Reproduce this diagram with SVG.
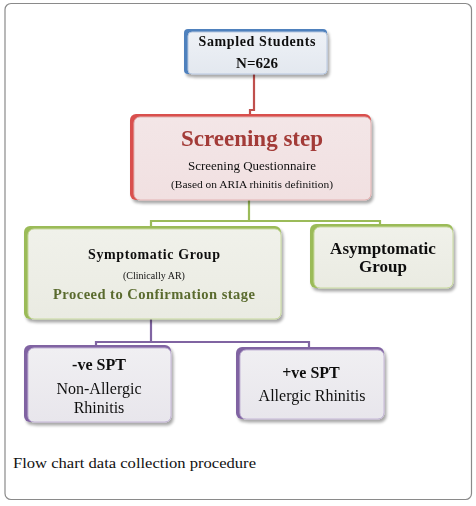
<svg xmlns="http://www.w3.org/2000/svg" width="476" height="506" viewBox="0 0 476 506">
<defs>
<style>
.t{font-family:"Liberation Serif","Times New Roman",serif;text-anchor:middle;fill:#111}
.b{font-weight:bold}
.conn{fill:none;stroke-width:2.2}
</style>
<filter id="sh" x="-10%" y="-10%" width="125%" height="130%">
<feGaussianBlur in="SourceAlpha" stdDeviation="1.5"/>
<feOffset dx="1.5" dy="2.5"/>
<feComponentTransfer><feFuncA type="linear" slope="0.35"/></feComponentTransfer>
<feMerge><feMergeNode/><feMergeNode in="SourceGraphic"/></feMerge>
</filter>
<linearGradient id="gb" x1="0" y1="0" x2="0" y2="1"><stop offset="0" stop-color="#eef1f6"/><stop offset="1" stop-color="#e3e8ef"/></linearGradient>
<linearGradient id="gr" x1="0" y1="0" x2="0" y2="1"><stop offset="0" stop-color="#f3e6e7"/><stop offset="1" stop-color="#f1e0e1"/></linearGradient>
<linearGradient id="gg" x1="0" y1="0" x2="0" y2="1"><stop offset="0" stop-color="#f0f1ea"/><stop offset="1" stop-color="#eaebe2"/></linearGradient>
<linearGradient id="gp" x1="0" y1="0" x2="0" y2="1"><stop offset="0" stop-color="#f0eff2"/><stop offset="1" stop-color="#e8e6ec"/></linearGradient>
</defs>
<rect x="5" y="3.5" width="466.5" height="496" rx="6" fill="#fff" stroke="#8a8a8a" stroke-width="1.2"/>

<g id="connectors">
<path class="conn" stroke="#c0504d" d="M254,74 V110 H250 V115"/>
<path class="conn" stroke="#9bbb59" d="M249,200 V221 H151 V227 M249,221 H380 V225"/>
<path class="conn" stroke="#8064a2" d="M151,319 V342 H96 V346 M151,342 H309 V348"/>
</g>

<g id="n_sampled" filter="url(#sh)">
<rect x="184" y="29" width="143" height="45" rx="4" fill="#4f81bd"/>
<rect x="188" y="32" width="139" height="42" rx="4" fill="url(#gb)" stroke="#b8c8e0" stroke-width="1"/>
<text class="t b" x="257" y="46" font-size="14" textLength="117" lengthAdjust="spacing">Sampled  Students</text>
<text class="t b" x="257" y="68" font-size="15">N=626</text>
</g>

<g id="n_screening" filter="url(#sh)">
<rect x="130" y="114" width="241" height="86" rx="6" fill="#d9504d"/>
<rect x="134" y="117" width="237" height="83" rx="6" fill="url(#gr)" stroke="#e2b3b3" stroke-width="1"/>
<text class="t b" x="252" y="146" font-size="23" style="fill:#a33b37">Screening step</text>
<text class="t" x="252" y="170" font-size="13">Screening Questionnaire</text>
<text class="t" x="252" y="188" font-size="10" textLength="162" lengthAdjust="spacingAndGlyphs">(Based on ARIA rhinitis  definition)</text>
</g>

<g id="n_symptomatic" filter="url(#sh)">
<rect x="24" y="226" width="257" height="93" rx="6" fill="#9bbb59"/>
<rect x="28" y="229" width="253" height="90" rx="6" fill="url(#gg)" stroke="#c8d99f" stroke-width="1"/>
<text class="t b" x="154" y="259" font-size="14" textLength="132" lengthAdjust="spacing">Symptomatic  Group</text>
<text class="t" x="154" y="279" font-size="10">(Clinically  AR)</text>
<text class="t b" x="154" y="299" font-size="14.5" style="fill:#5a6b2e" textLength="202" lengthAdjust="spacing">Proceed to Confirmation  stage</text>
</g>

<g id="n_asymptomatic" filter="url(#sh)">
<rect x="310" y="224" width="143" height="64" rx="6" fill="#9bbb59"/>
<rect x="314" y="227" width="139" height="61" rx="6" fill="url(#gg)" stroke="#c8d99f" stroke-width="1"/>
<text class="t b" x="383" y="254" font-size="17">Asymptomatic</text>
<text class="t b" x="383" y="272" font-size="17">Group</text>
</g>

<g id="n_neg" filter="url(#sh)">
<rect x="24" y="345" width="147" height="77" rx="6" fill="#8064a2"/>
<rect x="28" y="348" width="143" height="74" rx="6" fill="url(#gp)" stroke="#c4b6d6" stroke-width="1"/>
<text class="t b" x="99" y="370" font-size="16">-ve SPT</text>
<text class="t" x="99" y="394" font-size="16">Non-Allergic</text>
<text class="t" x="99" y="413" font-size="16">Rhinitis</text>
</g>

<g id="n_pos" filter="url(#sh)">
<rect x="236" y="347" width="148" height="72" rx="6" fill="#8064a2"/>
<rect x="240" y="350" width="144" height="69" rx="6" fill="url(#gp)" stroke="#c4b6d6" stroke-width="1"/>
<text class="t b" x="311" y="378" font-size="16">+ve SPT</text>
<text class="t" x="312" y="401" font-size="16">Allergic Rhinitis</text>
</g>

<text x="13" y="468" font-family="Liberation Serif, serif" font-size="15" fill="#111" textLength="243" lengthAdjust="spacingAndGlyphs">Flow chart data collection procedure</text>
</svg>
